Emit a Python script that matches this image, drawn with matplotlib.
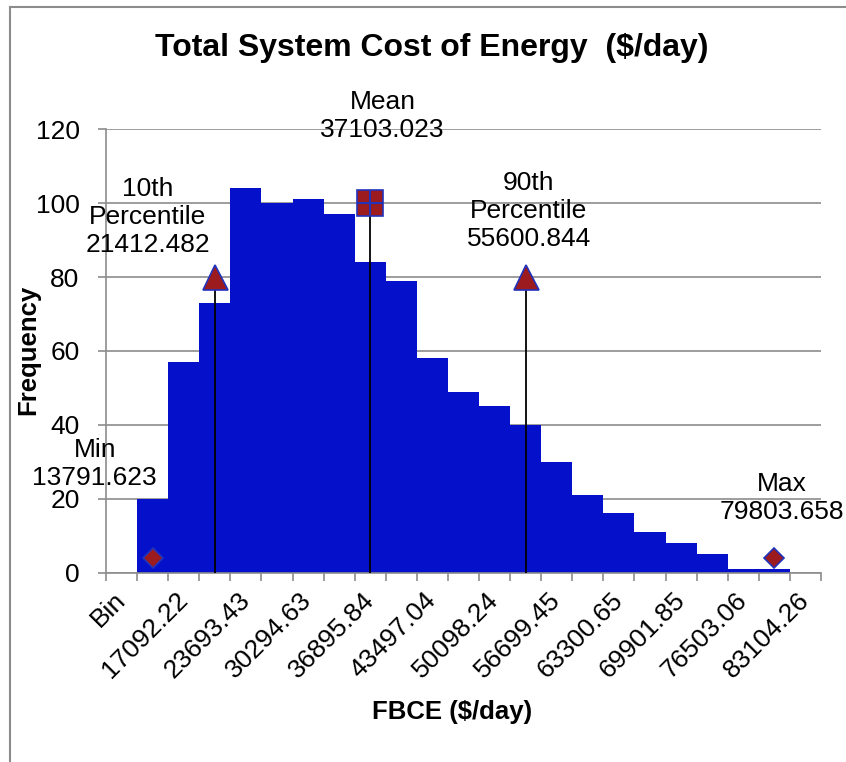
import matplotlib.pyplot as plt
from matplotlib.lines import Line2D

plt.rcParams['font.family'] = ['Liberation Sans', 'DejaVu Sans']

# histogram bins (Excel category axis) and counts
bins = ["Bin", "13791.62", "17092.22", "20392.83", "23693.43", "26994.03",
        "30294.63", "33595.24", "36895.84", "40196.44", "43497.04", "46797.64",
        "50098.24", "53398.85", "56699.45", "60000.05", "63300.65", "66601.25",
        "69901.85", "73202.46", "76503.06", "79803.66", "83104.26"]
counts = [0, 20, 57, 73, 104, 100, 101, 97, 84, 79, 58, 49, 45, 40, 30,
          21, 16, 11, 8, 5, 1, 1, 0]

# statistic markers: category index, height, marker, label, label position
stat_names = ["Min", "10th\nPercentile", "Mean", "90th\nPercentile", "Max"]
stat_values = ["13791.623", "21412.482", "37103.023", "55600.844", "79803.658"]
stat_pos = [1, 3, 8, 13, 21]
stat_height = [4, 80, 100, 80, 4]
stat_marker = ["D", "^", "s", "^", "D"]
stat_ms = [10, 18, 19, 18, 10]
label_x = [-0.86, 0.85, 8.4, 13.1, 21.24]
label_y = [29.3, 96.3, 123.7, 97.9, 20.2]

fig = plt.figure(figsize=(8.46, 7.62), dpi=100)
ax = fig.add_axes([106 / 846, 1 - 572.5 / 762, 715 / 846, 443.2 / 762])

x = list(range(len(bins)))
ax.bar(x, counts, width=1.0, color="#0410C9", zorder=2)

ax.set_xlim(-0.5, len(bins) - 0.5)
ax.set_ylim(0, 120)
ax.set_yticks(range(0, 121, 20))
ax.yaxis.grid(True, color="#8c8c8c", linewidth=1.2, zorder=0)
ax.set_axisbelow(True)

for s in ["top", "right"]:
    ax.spines[s].set_visible(False)
for s in ["left", "bottom"]:
    ax.spines[s].set_color("#8c8c8c")
    ax.spines[s].set_linewidth(1.2)

# labels at every other category, tick marks at category boundaries
ax.set_xticks(x[::2])
ax.set_xticklabels(bins[::2])
ax.set_xticks([i - 0.5 for i in range(len(bins) + 1)], minor=True)
ax.tick_params(axis="x", which="major", length=0, pad=17, labelsize=19)
ax.tick_params(axis="x", which="minor", length=6, width=1.2, color="#8c8c8c")
ax.tick_params(axis="y", length=6, width=1.2, color="#8c8c8c", pad=13, labelsize=19)
plt.setp(ax.get_xticklabels(), rotation=45, ha="right", va="center",
         rotation_mode="anchor")

for i in range(len(stat_pos)):
    if stat_names[i] not in ("Min", "Max"):
        ax.plot([stat_pos[i], stat_pos[i]], [0, stat_height[i]], color="black",
                linewidth=1.3, zorder=3)
    ax.plot(stat_pos[i], stat_height[i], marker=stat_marker[i], ms=stat_ms[i],
            markerfacecolor="#9B1B1E", markeredgecolor="#2233BB", mew=1.2,
            linestyle="none", zorder=4, clip_on=False)
    if stat_names[i] == "Mean":
        ax.plot(stat_pos[i], stat_height[i], marker="+", ms=stat_ms[i],
                color="#2233BB", mew=1.5, zorder=5)
    ax.text(label_x[i], label_y[i], stat_names[i] + "\n" + stat_values[i],
            ha="center", va="center", fontsize=19, linespacing=1.2,
            multialignment="center", clip_on=False, zorder=6)

fig.text(432 / 846, 1 - 48 / 762, "Total System Cost of Energy  ($/day)",
         ha="center", va="center", fontsize=23, fontweight="bold")
fig.text(452 / 846, 1 - 712 / 762, "FBCE ($/day)", ha="center", va="center",
         fontsize=18.5, fontweight="bold")
fig.text(28 / 846, 1 - 350 / 762, "Frequency", ha="center", va="center",
         rotation=90, fontsize=18.5, fontweight="bold")

# chart area border (left and top edges visible)
fig.add_artist(Line2D([10 / 846, 10 / 846], [0, 1 - 7 / 762], color="#8c8c8c",
                      linewidth=1.5, transform=fig.transFigure))
fig.add_artist(Line2D([10 / 846, 1], [1 - 7 / 762, 1 - 7 / 762], color="#8c8c8c",
                      linewidth=1.5, transform=fig.transFigure))

fig.savefig("out.png", dpi=100)
